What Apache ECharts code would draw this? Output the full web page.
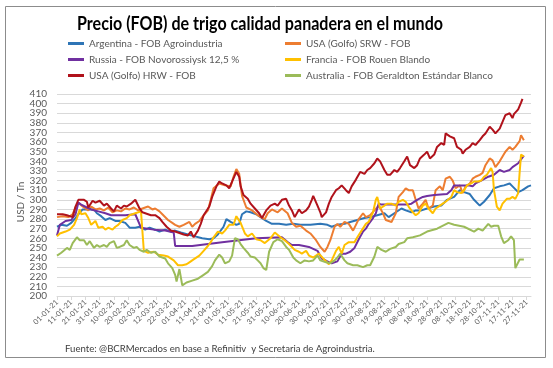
<!DOCTYPE html>
<html><head><meta charset="utf-8">
<script src="https://cdn.jsdelivr.net/npm/echarts@6/dist/echarts.min.js"></script>
<style>html,body{margin:0;padding:0;background:#fff}#c{width:553px;height:368px}</style>
</head><body><div id="c"></div>
<script>
const titleText = 'Precio (FOB) de trigo calidad panadera en el mundo';
const sourceText = 'Fuente: @BCRMercados en base a Refinitiv  y Secretaria de Agroindustria.';
const yAxisLabel = 'USD / Tn';
const seriesNames = ['Argentina - FOB Agroindustria','USA (Golfo) SRW - FOB','Russia - FOB Novorossiysk 12,5 %','Francia - FOB Rouen Blando','USA (Golfo) HRW - FOB','Australia - FOB Geraldton Estándar Blanco'];
const seriesColors = ['#2E75B6','#ED7D31','#7030A0','#FFC000','#B0121B','#9BBB59'];
const yMin = 200, yMax = 410, yStep = 10;

const argentina = [['01-01',272],['04-01',274],['08-01',273],['11-01',276],['14-01',281],['16-01',285],['19-01',290],['23-01',290],['27-01',290],['29-01',286],['01-02',283],['04-02',279],['07-02',281],['11-02',278],['14-02',278],['18-02',276],['21-02',271],['25-02',271],['28-02',272],['04-03',269],['07-03',271],['11-03',269],['14-03',267],['18-03',269],['22-03',267],['25-03',268],['29-03',266],['03-04',264],['08-04',262],['13-04',260],['18-04',259],['21-04',260],['24-04',264],['28-04',272],['30-04',280],['03-05',277],['07-05',274],['09-05',275],['11-05',285],['14-05',288],['17-05',287],['21-05',285],['24-05',282],['28-05',278],['01-06',275],['06-06',275],['11-06',274],['16-06',275],['21-06',274],['28-06',274],['05-07',275],['10-07',274],['13-07',272],['17-07',274],['22-07',275],['26-07',277],['31-07',279],['05-08',281],['09-08',282],['14-08',284],['19-08',286],['22-08',282],['26-08',286],['31-08',291],['03-09',289],['07-09',287],['10-09',289],['14-09',289],['18-09',291],['23-09',293],['28-09',294],['02-10',300],['07-10',303],['11-10',310],['14-10',308],['18-10',306],['21-10',300],['25-10',294],['28-10',298],['01-11',305],['04-11',312],['08-11',314],['11-11',315],['15-11',317],['17-11',314],['21-11',308],['24-11',310],['28-11',314],['30-11',315]];

const usaSrw = [['01-01',282],['05-01',283],['09-01',282],['12-01',285],['14-01',292],['16-01',297],['19-01',293],['21-01',291],['23-01',289],['25-01',293],['28-01',290],['31-01',291],['03-02',289],['06-02',292],['09-02',287],['12-02',289],['15-02',288],['18-02',291],['21-02',290],['24-02',292],['27-02',289],['02-03',291],['06-03',293],['09-03',290],['11-03',291],['14-03',288],['16-03',285],['20-03',279],['23-03',276],['25-03',274],['28-03',272],['31-03',274],['04-04',277],['06-04',272],['08-04',275],['11-04',278],['13-04',282],['17-04',289],['19-04',300],['21-04',312],['25-04',317],['29-04',315],['03-05',314],['05-05',324],['07-05',332],['09-05',327],['11-05',304],['14-05',292],['18-05',289],['23-05',283],['27-05',280],['29-05',286],['01-06',290],['05-06',287],['08-06',291],['12-06',286],['15-06',276],['18-06',272],['21-06',273],['25-06',268],['28-06',265],['02-07',258],['05-07',251],['08-07',246],['10-07',251],['12-07',258],['15-07',272],['17-07',275],['19-07',272],['22-07',277],['25-07',275],['28-07',268],['30-07',274],['01-08',280],['04-08',286],['06-08',282],['09-08',284],['12-08',289],['15-08',294],['18-08',286],['20-08',279],['24-08',277],['27-08',286],['29-08',303],['01-09',308],['03-09',312],['05-09',310],['08-09',310],['10-09',300],['12-09',291],['15-09',296],['17-09',300],['19-09',291],['22-09',294],['24-09',310],['27-09',314],['29-09',310],['01-10',322],['04-10',324],['06-10',320],['08-10',312],['11-10',315],['13-10',307],['15-10',314],['18-10',317],['20-10',322],['22-10',324],['25-10',326],['27-10',328],['29-10',336],['01-11',343],['03-11',341],['05-11',334],['08-11',340],['10-11',345],['12-11',350],['15-11',355],['17-11',352],['19-11',355],['22-11',361],['23-11',367],['25-11',362]];

const russia = [['01-01',263],['03-01',274],['07-01',278],['11-01',279],['14-01',285],['16-01',297],['18-01',295],['22-01',292],['25-01',290],['30-01',288],['04-02',286],['08-02',284],['13-02',284],['18-02',284],['25-02',285],['01-03',271],['10-03',269],['18-03',268],['24-03',266],['25-03',252],['06-04',252],['27-04',256],['21-05',260],['08-06',261],['12-06',256],['15-06',253],['20-06',253],['27-06',251],['30-06',249],['03-07',247],['06-07',239],['10-07',236],['13-07',234],['17-07',236],['20-07',244],['23-07',244],['26-07',246],['29-07',250],['01-08',259],['04-08',267],['06-08',270],['08-08',275],['11-08',281],['13-08',286],['15-08',296],['17-08',295],['23-08',295],['30-08',295],['04-09',295],['07-09',296],['11-09',300],['15-09',303],['18-09',304],['23-09',305],['02-10',306],['05-10',310],['07-10',315],['12-10',315],['17-10',315],['20-10',314],['22-10',317],['26-10',320],['31-10',324],['04-11',326],['08-11',331],['11-11',329],['15-11',331],['17-11',334],['21-11',338],['23-11',342],['25-11',346]];

const francia = [['01-01',262],['03-01',265],['07-01',267],['10-01',269],['13-01',274],['15-01',281],['17-01',290],['18-01',285],['21-01',286],['23-01',281],['25-01',274],['28-01',278],['30-01',271],['02-02',272],['04-02',269],['06-02',271],['09-02',269],['11-02',272],['13-02',274],['16-02',279],['19-02',281],['21-02',284],['25-02',286],['01-03',288],['02-03',288],['03-03',247],['06-03',245],['10-03',246],['13-03',243],['17-03',242],['20-03',241],['24-03',237],['27-03',232],['30-03',232],['02-04',233],['04-04',235],['07-04',238],['11-04',242],['14-04',247],['17-04',252],['19-04',256],['21-04',261],['24-04',267],['27-04',265],['29-04',268],['02-05',274],['05-05',274],['07-05',283],['10-05',276],['13-05',265],['15-05',262],['18-05',265],['21-05',259],['24-05',258],['27-05',255],['31-05',260],['03-06',266],['07-06',261],['10-06',258],['13-06',254],['17-06',248],['20-06',246],['22-06',244],['25-06',247],['27-06',242],['30-06',240],['04-07',244],['07-07',239],['11-07',233],['13-07',237],['16-07',247],['18-07',251],['20-07',244],['22-07',253],['25-07',256],['29-07',256],['31-07',261],['03-08',268],['06-08',275],['08-08',277],['11-08',287],['13-08',300],['14-08',303],['16-08',291],['19-08',294],['21-08',296],['24-08',296],['27-08',294],['29-08',298],['01-09',300],['03-09',298],['05-09',293],['08-09',287],['10-09',284],['12-09',286],['15-09',294],['17-09',296],['19-09',291],['22-09',286],['24-09',291],['27-09',294],['29-09',296],['01-10',298],['05-10',303],['07-10',310],['09-10',308],['12-10',307],['14-10',310],['16-10',315],['19-10',317],['21-10',319],['24-10',319],['26-10',320],['28-10',324],['30-10',326],['02-11',333],['03-11',329],['04-11',310],['06-11',293],['08-11',289],['10-11',296],['13-11',301],['15-11',301],['17-11',303],['19-11',301],['21-11',307],['22-11',328],['23-11',347],['24-11',348],['25-11',345]];

const usaHrw = [['01-01',285],['05-01',285],['08-01',284],['12-01',282],['14-01',293],['16-01',300],['20-01',300],['22-01',298],['23-01',292],['26-01',299],['28-01',297],['31-01',299],['03-02',294],['05-02',296],['08-02',291],['10-02',288],['12-02',294],['15-02',291],['17-02',294],['19-02',293],['22-02',296],['25-02',300],['28-02',291],['02-03',287],['04-03',286],['08-03',284],['11-03',284],['14-03',281],['16-03',277],['19-03',272],['22-03',268],['25-03',267],['29-03',265],['31-03',264],['03-04',263],['05-04',267],['07-04',261],['10-04',268],['12-04',275],['14-04',284],['18-04',293],['20-04',303],['23-04',314],['25-04',319],['27-04',317],['30-04',315],['02-05',312],['04-05',319],['07-05',329],['08-05',331],['09-05',324],['10-05',314],['12-05',305],['15-05',301],['17-05',296],['20-05',291],['23-05',286],['25-05',281],['28-05',289],['31-05',294],['03-06',296],['05-06',294],['08-06',300],['11-06',301],['13-06',294],['15-06',289],['17-06',282],['20-06',290],['22-06',286],['25-06',289],['27-06',293],['29-06',300],['30-06',304],['03-07',294],['05-07',287],['06-07',282],['09-07',287],['11-07',296],['13-07',303],['16-07',310],['18-07',312],['20-07',315],['23-07',310],['25-07',307],['27-07',314],['30-07',321],['02-08',329],['05-08',327],['07-08',331],['09-08',333],['12-08',338],['14-08',343],['16-08',340],['19-08',331],['21-08',326],['23-08',326],['26-08',331],['28-08',329],['30-08',333],['02-09',340],['04-09',345],['06-09',336],['09-09',333],['11-09',336],['13-09',343],['16-09',347],['18-09',350],['20-09',343],['23-09',347],['25-09',355],['28-09',359],['30-09',357],['01-10',369],['04-10',366],['07-10',364],['09-10',355],['12-10',352],['13-10',348],['15-10',352],['18-10',355],['20-10',359],['22-10',357],['25-10',362],['27-10',366],['29-10',369],['01-11',376],['03-11',373],['05-11',369],['08-11',374],['10-11',381],['12-11',388],['15-11',390],['17-11',385],['18-11',389],['21-11',394],['23-11',401],['24-11',405]];

const australia = [['01-01',242],['04-01',245],['08-01',250],['10-01',248],['12-01',255],['15-01',261],['17-01',258],['20-01',258],['22-01',253],['24-01',257],['27-01',250],['29-01',253],['31-01',251],['03-02',253],['05-02',251],['07-02',255],['10-02',257],['12-02',250],['14-02',251],['17-02',253],['19-02',258],['21-02',253],['24-02',250],['26-02',251],['28-02',248],['03-03',246],['05-03',248],['08-03',245],['11-03',246],['14-03',241],['18-03',239],['20-03',234],['23-03',229],['25-03',222],['26-03',215],['28-03',228],['30-03',211],['02-04',214],['06-04',216],['10-04',218],['13-04',221],['17-04',225],['20-04',231],['22-04',237],['25-04',243],['27-04',240],['29-04',234],['02-05',236],['04-05',242],['06-05',260],['08-05',259],['10-05',254],['12-05',250],['15-05',245],['17-05',241],['20-05',240],['22-05',237],['24-05',234],['26-05',229],['28-05',227],['30-05',246],['02-06',256],['05-06',259],['08-06',257],['11-06',251],['13-06',248],['16-06',240],['18-06',237],['21-06',234],['24-06',237],['27-06',236],['30-06',237],['03-07',242],['05-07',237],['09-07',235],['12-07',234],['15-07',237],['17-07',240],['19-07',244],['22-07',237],['24-07',234],['28-07',232],['31-07',232],['04-08',230],['07-08',232],['09-08',232],['12-08',241],['14-08',251],['17-08',248],['20-08',246],['23-08',249],['27-08',251],['29-08',254],['02-09',256],['04-09',260],['08-09',261],['13-09',263],['18-09',267],['25-09',270],['03-10',276],['07-10',274],['14-10',272],['21-10',267],['24-10',270],['27-10',268],['31-10',275],['02-11',272],['04-11',273],['07-11',273],['09-11',262],['11-11',255],['14-11',258],['16-11',262],['18-11',258],['19-11',229],['22-11',238],['25-11',238]];

const seriesData = [argentina, usaSrw, russia, francia, usaHrw, australia];

// categories: every calendar day 01-01-21 .. 30-11-21
const categories = [];
for (let t = Date.UTC(2021,0,1); t <= Date.UTC(2021,10,30); t += 86400000) {
  const d = new Date(t);
  categories.push(String(d.getUTCDate()).padStart(2,'0') + '-' + String(d.getUTCMonth()+1).padStart(2,'0') + '-21');
}
const yTicks = [];
for (let v = yMin; v <= yMax; v += yStep) yTicks.push(v);

const FONT = 'Lato';
const ctx = document.createElement('canvas').getContext('2d');
ctx.font = 'bold 18px ' + FONT;
const titleScale = 366 / ctx.measureText(titleText).width;
ctx.font = '10px ' + FONT;
const srcSize = 10 * 310 / ctx.measureText(sourceText).width;

const chart = echarts.init(document.getElementById('c'), null, {renderer: 'canvas'});
const legendBase = {orient:'vertical', padding:0, itemWidth:16, itemHeight:3, itemGap:5, icon:'rect',
  textStyle:{fontFamily:FONT, fontSize:10, color:'#595959', lineHeight:11}};
chart.setOption({
  animation: false,
  textStyle: {fontFamily: FONT},
  grid: {left:57, right:22, top:94, bottom:72, containLabel:false},
  legend: [
    Object.assign({}, legendBase, {left:68, top:38, data:[seriesNames[0], seriesNames[2], seriesNames[4]]}),
    Object.assign({}, legendBase, {left:285, top:38, data:[seriesNames[1], seriesNames[3], seriesNames[5]]})
  ],
  xAxis: {
    type:'category', data:categories, boundaryGap:false,
    axisLine:{show:true, lineStyle:{color:'#D9D9D9'}},
    axisTick:{show:true, interval:9, length:4, lineStyle:{color:'#D9D9D9'}},
    axisLabel:{interval:9, rotate:45, fontSize:7.5, color:'#595959', margin:5, fontFamily:FONT},
    splitLine:{show:false}
  },
  yAxis: {
    type:'value', min:yMin, max:yMax, interval:yStep,
    axisLine:{show:false}, axisTick:{show:false},
    axisLabel:{show:false},
    splitLine:{lineStyle:{color:'#D9D9D9', width:1}}
  },
  series: seriesNames.map((n,i) => ({
    name:n, type:'line', showSymbol:false, symbol:'none',
    data: seriesData[i].map(p => [p[0] + '-21', p[1]]),
    lineStyle:{width:2, color:seriesColors[i]},
    itemStyle:{color:seriesColors[i]},
    z: 2 + i
  }))
});

// y tick labels placed through the axis scale (all shown, as in the original)
const gridLeft = chart.convertToPixel({xAxisIndex:0}, categories[0]);
const yLabelEls = yTicks.map(v => ({
  type:'text', silent:true, x: gridLeft - 10, y: chart.convertToPixel({yAxisIndex:0}, v),
  style:{text:String(v), font:'10px ' + FONT, fill:'#595959', textAlign:'right', textVerticalAlign:'middle'}
}));
chart.setOption({
  graphic: [
    {type:'rect', silent:true, z:-10, shape:{x:5.5, y:6.5, width:540, height:351}, style:{fill:'none', stroke:'#8C8C8C', lineWidth:1}},
    {type:'text', x:260, y:24, scaleX:titleScale, style:{text:titleText, font:'bold 18px ' + FONT, fill:'#000', textAlign:'center', textVerticalAlign:'middle'}},
    {type:'text', x:21, y:202, rotation:Math.PI/2, style:{text:yAxisLabel, font:'10px ' + FONT, fill:'#595959', textAlign:'center', textVerticalAlign:'middle'}},
    {type:'text', x:65, y:349, style:{text:sourceText, font:srcSize.toFixed(2) + 'px ' + FONT, fill:'#404040', textAlign:'left', textVerticalAlign:'middle'}}
  ].concat(yLabelEls)
});
</script>
</body></html>
